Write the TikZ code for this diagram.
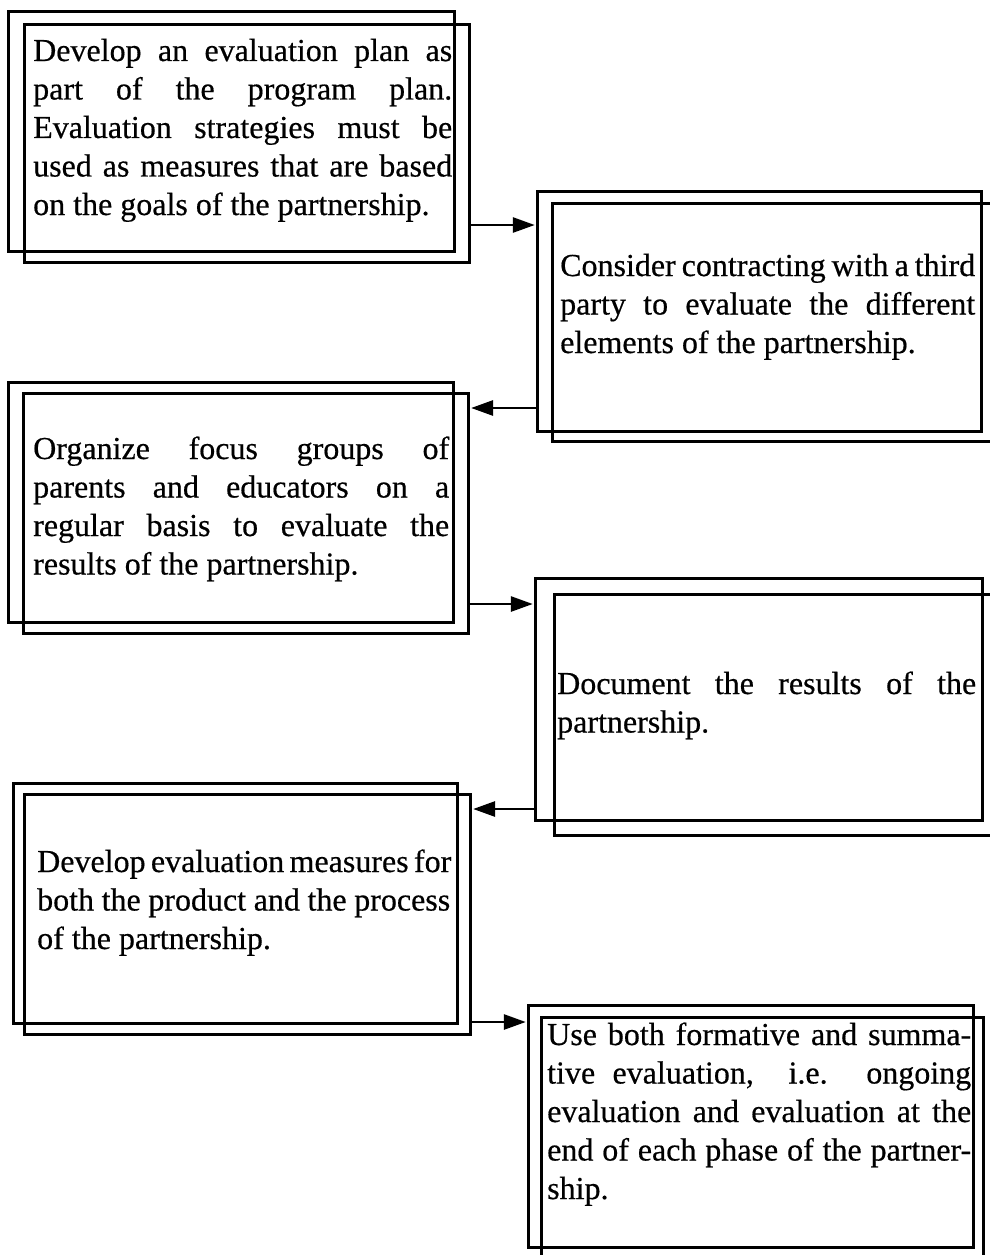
\documentclass[tikz,border=0pt]{standalone}
\usepackage{fontspec}
\setmainfont{Liberation Serif}[FakeBold=0.5]
\usetikzlibrary{arrows.meta}
\newcommand{\jl}[1]{\makebox[\linewidth][s]{#1}}
\newcommand{\boxtext}[2]{\parbox[t]{#1}{\fontsize{32pt}{38.5pt}\selectfont #2}}
\tikzset{
  frame/.style={draw, line width=2.9pt, rectangle, inner sep=0pt, anchor=north west},
  txt/.style={inner sep=0pt, anchor=base west},
  conn/.style={line width=2.8pt, -{Triangle[length=22pt,width=15pt]}, shorten >=1.2pt}
}
\begin{document}
\begin{tikzpicture}[x=1pt,y=-1pt]
\useasboundingbox (0,0) rectangle (990,1255);
\clip (0,0) rectangle (990,1255);
% box 1
\node[frame, minimum width=446pt, minimum height=240pt] (b1b) at (7,10) {};
\node[frame, minimum width=445pt, minimum height=238pt] (b1f) at (23,23) {};
\node[txt] (t1) at (33,61) {\boxtext{419pt}{\jl{Develop an evaluation plan as}\\
\jl{part of the program plan.}\\
\jl{Evaluation strategies must be}\\
\jl{used as measures that are based}\\
on the goals of the partnership.}};
% box 2
\node[frame, minimum width=444pt, minimum height=240pt] (b2b) at (536,190) {};
\node[frame, minimum width=450pt, minimum height=238pt] (b2f) at (551,202) {};
\node[txt] (t2) at (560,276) {\boxtext{415pt}{\jl{Consider contracting with a third}\\
\jl{party to evaluate the different}\\
elements of the partnership.}};
% box 3
\node[frame, minimum width=445pt, minimum height=240pt] (b3b) at (7,381) {};
\node[frame, minimum width=445pt, minimum height=240pt] (b3f) at (22,392) {};
\node[txt] (t3) at (33,459) {\boxtext{416pt}{\jl{Organize focus groups of}\\
\jl{parents and educators on a}\\
\jl{regular basis to evaluate the}\\
results of the partnership.}};
% box 4
\node[frame, minimum width=447pt, minimum height=242pt] (b4b) at (534,577) {};
\node[frame, minimum width=448pt, minimum height=241pt] (b4f) at (553,593) {};
\node[txt] (t4) at (557,694) {\boxtext{419pt}{\jl{Document the results of the}\\
partnership.}};
% box 5
\node[frame, minimum width=444pt, minimum height=240pt] (b5b) at (12,782) {};
\node[frame, minimum width=446pt, minimum height=240pt] (b5f) at (23,793) {};
\node[txt] (t5) at (37,872) {\boxtext{413pt}{\jl{Develop evaluation measures for}\\
\jl{both the product and the process}\\
of the partnership.}};
% box 6
\node[frame, minimum width=445pt, minimum height=242pt] (b6b) at (527,1004) {};
\node[frame, minimum width=442pt, minimum height=250pt] (b6f) at (540,1016) {};
\node[txt] (t6) at (547,1045) {\boxtext{424pt}{\jl{Use both formative and summa-}\\
\jl{tive evaluation,\ \ i.e. ongoing}\\
\jl{evaluation and evaluation at the}\\
\jl{end of each phase of the partner-}\\
ship.}};
% connectors
\coordinate (a1) at (0,225);
\coordinate (a2) at (0,408);
\coordinate (a3) at (0,604);
\coordinate (a4) at (0,809);
\coordinate (a5) at (0,1022);
\draw[conn] (b1f.east |- a1) -- (b2b.west |- a1);
\draw[conn] (b2b.west |- a2) -- (b3f.east |- a2);
\draw[conn] (b3f.east |- a3) -- (b4b.west |- a3);
\draw[conn] (b4b.west |- a4) -- (b5f.east |- a4);
\draw[conn] (b5f.east |- a5) -- (b6b.west |- a5);
\end{tikzpicture}
\end{document}
